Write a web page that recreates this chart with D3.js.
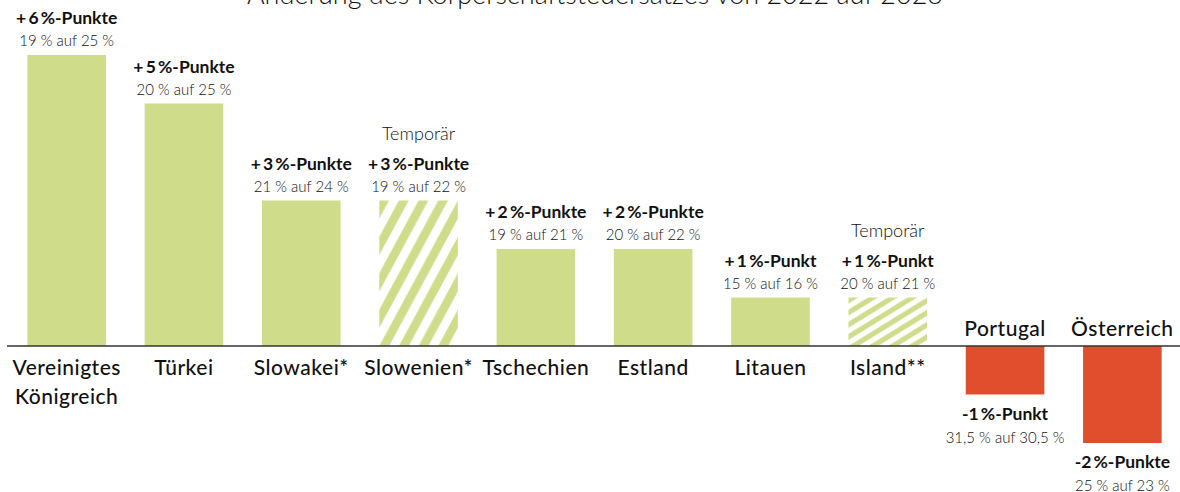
<!DOCTYPE html>
<html>
<head>
<meta charset="utf-8">
<script src="https://cdn.jsdelivr.net/npm/d3@7"></script>
<style>
  html, body { margin: 0; padding: 0; background: #fff; }
  svg { display: block; font-family: Lato, "Noto Sans", sans-serif; }
</style>
</head>
<body>
<div id="chart"></div>
<script>
const countries = ['Vereinigtes Königreich', 'Türkei', 'Slowakei*', 'Slowenien*', 'Tschechien', 'Estland', 'Litauen', 'Island**', 'Portugal', 'Österreich'];
const changes = [6, 5, 3, 3, 2, 2, 1, 1, -1, -2];
const rateFrom = ['19', '20', '21', '19', '19', '20', '15', '20', '31,5', '25'];
const rateTo = ['25', '25', '24', '22', '21', '22', '16', '21', '30,5', '23'];
const temporary = [false, false, false, true, false, false, false, true, false, false];
const title = 'Änderung des Körperschaftsteuersatzes von 2022 auf 2023';

const w = 1180;
const h = 492;
const green = '#cfdd8b';
const red = '#e04e2d';
const ts = '\u2009';

const data = countries.map((c, i) => ({
  country: c,
  change: changes[i],
  from: rateFrom[i],
  to: rateTo[i],
  temp: temporary[i]
}));

const x = d3.scaleBand()
  .domain(countries)
  .range([8, 1181])
  .paddingInner(0.33)
  .paddingOuter(0.165);

const y = d3.scaleLinear()
  .domain([-2, 6])
  .range([443, 55]);

const svg = d3.select('#chart')
  .append('svg')
  .attr('width', w)
  .attr('height', h);

// hatch pattern, stretched over each bar
const pat = svg.append('defs')
  .append('pattern')
  .attr('id', 'hatch')
  .attr('patternUnits', 'objectBoundingBox')
  .attr('patternContentUnits', 'objectBoundingBox')
  .attr('width', 0.25)
  .attr('height', 0.25);
pat.append('polygon')
  .attr('points', '0,0 0.125,0 0,0.125')
  .attr('fill', green);
pat.append('polygon')
  .attr('points', '0.25,0 0.25,0.125 0.125,0.25 0,0.25')
  .attr('fill', green);

svg.append('text')
  .attr('x', 595)
  .attr('y', 4)
  .attr('text-anchor', 'middle')
  .attr('font-size', 27)
  .attr('font-weight', 300)
  .attr('fill', '#111')
  .text(title);

svg.selectAll('rect.bar')
  .data(data)
  .enter()
  .append('rect')
  .attr('class', 'bar')
  .attr('x', d => x(d.country))
  .attr('y', d => y(Math.max(0, d.change)))
  .attr('width', x.bandwidth())
  .attr('height', d => Math.abs(y(d.change) - y(0)))
  .attr('fill', d => d.change < 0 ? red : (d.temp ? 'url(#hatch)' : green));

svg.append('line')
  .attr('x1', 7)
  .attr('x2', w)
  .attr('y1', y(0))
  .attr('y2', y(0))
  .attr('stroke', '#333')
  .attr('stroke-width', 1.5);

const changeText = d => {
  const a = Math.abs(d.change);
  const sign = d.change > 0 ? '+' + ts : '-';
  return sign + a + ts + '%-Punkt' + (a === 1 ? '' : 'e');
};
const rateText = d => d.from + ' % auf ' + d.to + ' %';

const labels = svg.selectAll('g.lab')
  .data(data)
  .enter()
  .append('g')
  .attr('class', 'lab')
  .attr('transform', d => `translate(${x(d.country) + x.bandwidth() / 2},0)`)
  .attr('text-anchor', 'middle');

// change labels
labels.append('text')
  .attr('y', d => d.change > 0 ? y(d.change) - 31 : y(d.change) + 25)
  .attr('font-size', 17.5)
  .attr('font-weight', 700)
  .attr('fill', '#111')
  .text(changeText);

labels.append('text')
  .attr('y', d => d.change > 0 ? y(d.change) - 9 : y(d.change) + 48)
  .attr('font-size', 15)
  .attr('font-weight', 300)
  .attr('fill', '#111')
  .text(rateText);

labels.filter(d => d.temp)
  .append('text')
  .attr('y', d => y(d.change) - 61)
  .attr('font-size', 18)
  .attr('font-weight', 300)
  .attr('fill', '#111')
  .text('Temporär');

// country names
labels.append('text')
  .attr('font-size', 21)
  .attr('font-weight', 500)
  .attr('letter-spacing', 0.5)
  .attr('fill', '#111')
  .each(function (d) {
    const lines = d.country.split(' ');
    const y0 = d.change > 0 ? y(0) + 29 : y(0) - 10;
    d3.select(this).selectAll('tspan')
      .data(lines)
      .enter()
      .append('tspan')
      .attr('x', 0)
      .attr('y', (l, i) => y0 + i * 29)
      .text(l => l);
  });
</script>
</body>
</html>
